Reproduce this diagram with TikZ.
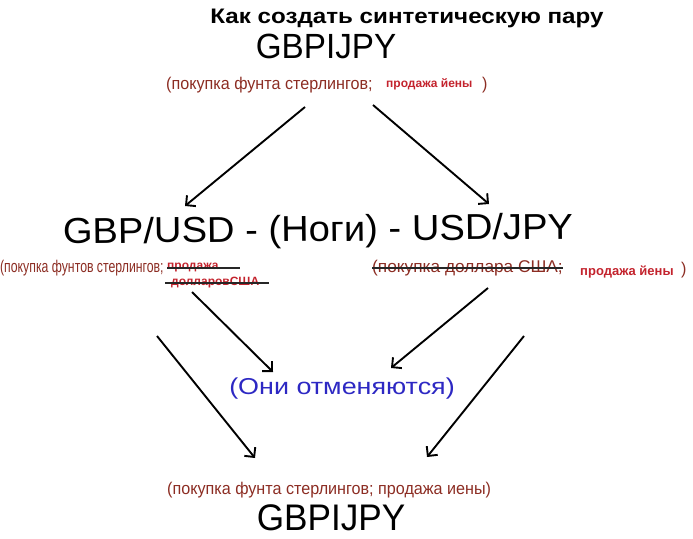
\documentclass[tikz,border=0pt]{standalone}
\usepackage{fontspec}
\setmainfont{Liberation Sans}
\usetikzlibrary{arrows.meta}
\definecolor{noteRed}{RGB}{140,45,35}
\definecolor{sellRed}{RGB}{195,35,45}
\definecolor{cancelBlue}{RGB}{45,40,195}
\tikzset{
  title/.style={font=\fontsize{21}{21}\bfseries\selectfont, inner sep=0pt, xscale=1.15},
  pair/.style={font=\fontsize{35}{35}\selectfont, inner sep=0pt, xscale=0.95},
  legs/.style={font=\fontsize{36}{36}\selectfont, inner sep=0pt, xscale=1.06, rotate=0.6},
  note/.style={font=\fontsize{17}{17}\selectfont, text=noteRed, inner sep=0pt, xscale=0.95, anchor=west},
  sell/.style={font=\fontsize{12}{12}\bfseries\selectfont, text=sellRed, inner sep=0pt, anchor=west},
  cancel/.style={font=\fontsize{23}{23}\selectfont, text=cancelBlue, inner sep=0pt, xscale=1.17},
  arr/.style={-{Straight Barb[length=7pt,width=14pt]}, line width=1.9pt},
  strike/.style={line width=1.2pt, color=black!85}
}
\begin{document}
\begin{tikzpicture}[x=1pt,y=-1pt]
  \useasboundingbox (0,0) rectangle (693,538);

  %%%%% TOP %%%%%
  \node[title] (title) at (407,18) {Как создать синтетическую пару};
  \node[pair] (topPair) at (326,46) {GBPIJPY};
  \node[note] (topNote) at (166,85) {(покупка фунта стерлингов;};
  \node[sell] (topSell) at (386,84) {продажа йены};
  \node[note] (topClose) at (482,85) {)};

  %%%%% LEGS %%%%%
  \node[legs] (legs) at (318,232) {GBP/USD - (Ноги) - USD/JPY};

  \node[note, xscale=0.76] (leftNote) at (0,268) {(покупка фунтов стерлингов;};
  \node[sell] (leftSell) at (167,268) {продажа};
  \node[sell] (leftUsd) at (171,283) {долларовСША};
  \draw[strike] (leftSell.west) -- ([xshift=21pt]leftSell.east);
  \draw[strike] ([xshift=-6pt]leftUsd.west) -- ([xshift=10pt]leftUsd.east);

  \node[note, xscale=1.07] (rightNote) at (372,268) {(покупка доллара США;};
  \node[sell, font=\fontsize{13}{13}\bfseries\selectfont] (rightSell) at (580,272) {продажа йены};
  \node[note] (rightClose) at (681,270) {)};
  \draw[strike] (rightNote.west) -- (rightNote.east);

  %%%%% CANCEL %%%%%
  \node[cancel] (cancel) at (342,389) {(Они отменяются)};

  %%%%% BOTTOM %%%%%
  \node[note] (botNote) at (167,490) {(покупка фунта стерлингов; продажа иены)};
  \node[pair, font=\fontsize{37}{37}\selectfont] (botPair) at (331,518) {GBPIJPY};

  %%%%% ARROWS %%%%%
  \coordinate (tlA) at (305,107);  \coordinate (tlB) at (185,206);
  \coordinate (trA) at (373,105);  \coordinate (trB) at (489,204);
  \coordinate (mlA) at (192,292);  \coordinate (mlB) at (273,372);
  \coordinate (mrA) at (488,288);  \coordinate (mrB) at (391,368);
  \coordinate (olA) at (157,336);  \coordinate (olB) at (255,458);
  \coordinate (orA) at (524,336);  \coordinate (orB) at (427,457);
  \draw[arr] (tlA) -- (tlB);
  \draw[arr] (trA) -- (trB);
  \draw[arr] (mlA) -- (mlB);
  \draw[arr] (mrA) -- (mrB);
  \draw[arr] (olA) -- (olB);
  \draw[arr] (orA) -- (orB);
\end{tikzpicture}
\end{document}
